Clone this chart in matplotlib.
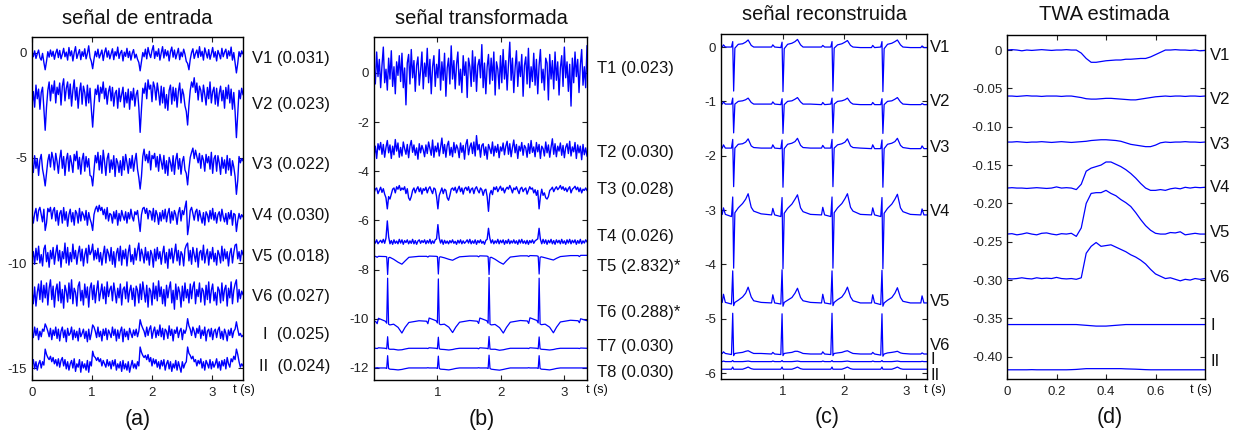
import numpy as np
import matplotlib
matplotlib.use('Agg')
import matplotlib.pyplot as plt

plt.rcParams['font.family'] = ['Liberation Sans', 'DejaVu Sans']
plt.rcParams['axes.unicode_minus'] = False

W, H = 1236, 437
BLUE = '#0000ff'

# ---------------- (a) señal de entrada ----------------
# baseline of each lead, wiggles in hundredths around it
base_a = [-0.10, -2.08, -5.33, -7.80, -9.70, -11.50, -13.35, -14.80]
labels_a = ['V1 (0.031)', 'V2 (0.023)', 'V3 (0.022)', 'V4 (0.030)',
            'V5 (0.018)', 'V6 (0.027)', 'I  (0.025)', 'II  (0.024)']

a_v1 = [12, -8, 20, -16, 6, 24, -12, -24, 8, -35, -70, -30, 16, -10, 24, -6, 18, -20, 10, 28,
        -12, 22, -18, 4, 32, -8, 14, -24, 36, -4, 20, -28, 12, 40, -16, 6, 26, -22, 16, -6,
        30, -18, 8, 44, -12, -30, -65, -20, 18, -8, 28, -14, 4, 24, -26, 12, 34, -10, 20, -18,
        6, 30, -22, 16, -4, 38, -16, 10, 22, -28, 14, -6, 32, -12, 18, -24, 8, 26, -14, 4,
        -20, -35, -75, -30, 12, -8, 28, -18, 36, 6, -12, 22, 45, -16, 18, -6, 30, -24, 10, 40,
        -14, 26, -4, 20, -28, 16, 38, -10, 24, -18, 8, 32, -22, 14, -8, 28, 4, -30, -40, -70,
        -20, 12, 30, -16, 8, 24, -12, 40, -6, 18, -24, 34, 10, -14, 26, -20, 6, 36, -10, 16,
        -28, 22, 4, -18, 32, -8, 14, 28, -16, 20, -4, 38, -24, 12, -36, -85, -40, 16, -8, 20,
        6]
a_v2 = [-40, 24, -50, 55, -10, 36, -60, 20, 45, -60, -160, -50, 30, 70, -20, 55, 16, 75, -30, 45,
        10, 65, -40, 50, 85, -20, 40, 70, -10, 60, -45, 30, 80, -16, 44, -55, 24, 65, -36, 50,
        20, -44, 55, -30, 40, -60, -145, -45, 36, 10, 55, -24, 45, 16, 70, -10, 40, -36, 24, 50,
        -20, 44, -45, 16, 30, -55, 40, -24, 10, 45, -50, 20, -30, 36, -60, 24, -16, 40, -45, 10,
        30, -50, -170, -60, 40, 16, 65, -10, 80, 36, 55, -24, 70, 45, -16, 65, 20, -40, 50, -30,
        44, -55, 10, -65, 30, 55, -36, 45, -20, 40, -50, 24, 65, -30, 36, 10, -44, -70, -135, -40,
        30, 70, 45, 90, 20, 65, -16, 50, 30, -24, 55, 10, -40, 44, -10, 70, -30, 24, 45, -36,
        40, -45, 16, 50, -20, 30, -55, 44, -10, 55, -30, 36, -60, 20, -70, -195, -80, 30, -10, 40,
        10]
a_v3 = [10, -36, 44, -16, 30, -50, 24, 50, -20, -55, -100, -40, 20, 50, -10, 60, 30, -24, 55, 16,
        -40, 30, 70, -16, 40, -50, 24, 55, -30, 44, 10, -36, 50, 20, 65, -20, 36, -44, 24, 55,
        -30, 40, -10, 30, -50, -55, -100, -30, 45, 10, 60, -24, 44, -40, 70, 16, -50, 30, 55, -36,
        24, -20, 44, -55, 30, 10, -36, 20, -50, 40, -24, 50, 10, -40, 30, -16, 45, -30, 20, 55,
        -20, -60, -115, -55, 40, 75, 20, 50, 10, 65, -24, 45, 30, 55, -10, 40, -30, 50, 16, -20,
        45, -40, 20, -50, 36, 10, -30, 44, -45, 24, 55, -20, 30, -44, 16, 40, -24, -40, -95, -20,
        36, 60, 80, 30, 70, 40, 10, 55, -16, 45, 24, -30, 50, 10, 40, -20, 60, -40, 30, 45,
        -30, 44, 10, -45, 36, -16, 24, -40, 45, -24, 30, -50, 20, -10, -55, -140, -75, 40, 10, 30,
        20]
a_v4 = [20, -30, 16, 40, -20, 30, 45, 10, -24, 36, -65, -30, 40, 24, 45, -10, 30, 44, -20, 30,
        -40, 16, 30, -30, 44, -16, 24, -45, 10, 36, -24, 20, -40, 30, 16, -30, 40, -20, 24, 10,
        -16, 30, -40, 20, -10, -30, -65, 10, 36, 50, 24, 55, 30, 45, 10, 36, -10, 44, -20, 16,
        10, -30, 24, -10, 30, -40, 16, -20, 30, 4, -16, 24, -30, 20, -10, 36, 0, -20, 24, 10,
        30, -20, -70, 10, 40, 45, 16, 40, -10, 30, 24, -16, 40, -24, 30, 10, -36, 20, -20, 30,
        -10, 36, -24, 16, 40, -30, 24, -16, 30, 10, -36, 20, 44, -20, 30, 10, 45, 75, -85, -40,
        30, 45, 16, -16, 24, 36, -20, 30, 0, -30, 20, -40, 24, 10, -24, 30, -10, 40, -16, 20,
        -30, 10, 24, -20, 36, 0, -24, 16, -36, 20, -10, 30, -40, 16, 10, -70, -20, 16, -10, 10,
        0]
a_v5 = [-10, 24, -36, 40, -16, 50, -30, 10, -44, 36, 55, -24, 20, -50, 30, -10, 44, -36, 16, 55,
        -20, 30, -50, 24, -10, 65, -30, 44, -40, 20, -24, 60, -10, 30, -36, 16, 50, -20, 36, -44,
        10, 40, -30, 55, 10, 24, 60, -16, 30, -10, 40, -24, 20, -40, 10, 50, -30, 36, 16, -20,
        44, -36, 24, -50, 16, 40, -20, 50, -40, 30, -10, 36, -44, 20, 55, -24, 10, -36, 40, -16,
        30, 65, -20, 36, 10, -30, 44, -16, 24, -40, 30, 10, -50, 36, -20, 44, -10, 24, -36, 16,
        50, -30, 20, -55, 36, -10, 40, -30, 16, 60, -20, 30, -40, 24, 10, -44, 36, 55, 65, -20,
        30, -36, 44, 10, -24, 40, -50, 20, 30, -16, 55, -30, 10, 36, -40, 24, -10, 44, -24, 16,
        -40, 30, 10, -30, 50, -20, 36, -10, 24, -44, 16, 40, -30, 20, 55, 60, -10, 24, -20, 30,
        10]
a_v6 = [20, -44, 36, -55, 10, 50, -24, 65, -36, 44, -16, 55, -50, 30, 70, -24, 40, -60, 20, 50,
        -30, 60, -40, 24, -65, 44, 16, -36, 55, -20, 70, -44, 30, 10, -55, 40, 60, -30, 20, -50,
        50, -16, 36, -60, 30, 55, -24, 44, -40, 20, 65, -30, 10, 50, -20, 36, -44, 60, -10, 24,
        40, -30, 55, 10, -40, 30, -16, 50, -50, 24, 36, -20, 60, -36, 16, 44, -24, 30, -55, 40,
        20, -40, 50, -24, 60, 10, -36, 44, -60, 30, 16, -50, 55, -20, 40, -30, 65, -10, 36, -44,
        24, -55, 44, -16, 30, 60, -40, 20, -70, 50, -24, 36, 10, -60, 40, -30, 55, -16, 24, -40,
        50, -20, 36, 60, -44, 24, -10, 55, -36, 30, 16, -50, 44, -24, 60, -40, 20, 50, -30, 10,
        -50, 36, 20, -40, 55, -30, 24, 44, -55, 30, -16, 60, -44, 20, 50, 70, -36, 24, -20, 16,
        0]
a_i = [0, -20, 30, -10, 24, -30, 10, -16, 20, 10, 45, 30, 10, -16, 24, -30, 16, -10, 30, -24,
       20, -36, 10, 30, -20, 16, -40, 24, -10, 0, 30, -30, 16, -20, 10, -36, 24, -16, 0, 20,
       -24, 10, -40, 20, -30, 0, 40, 30, 10, -20, 30, -16, 10, -36, 20, -10, 24, -30, 16, 0,
       -20, 30, -10, 20, -36, 16, -24, 10, 30, -40, 20, -16, 10, -30, 24, 0, -20, 16, -10, 20,
       -16, 10, 65, 40, 24, 10, -16, 30, -10, 20, 36, -24, 10, 30, -20, 16, -10, 40, -16, 24,
       -30, 20, 10, -24, 36, -10, 20, -36, 16, 0, 30, -20, 10, 24, -30, 16, 0, 20, 70, 36,
       20, -10, 30, 10, -20, 24, 0, 36, -24, 16, -10, 30, -36, 10, 20, -16, 24, -30, 10, 20,
       -20, 16, 30, -24, 10, -30, 20, 0, -36, 16, -10, 24, -20, 10, 20, 55, 20, -10, 0, -16,
       -10]
a_ii = [-10, 20, -24, 10, -30, 0, 16, -20, 10, -6, 70, 45, 30, 20, 36, 10, 30, 0, 20, -10,
        24, -16, 16, 30, -10, 20, -24, 10, -30, 0, 16, -20, 24, -36, 0, -16, 20, -40, 10, -20,
        0, -30, 16, -40, 10, -10, 60, 36, 30, 16, 30, 10, 24, -10, 16, 0, -16, 20, -10, 10,
        -24, 16, -10, 20, -30, 0, -20, 10, -36, 16, -24, 0, -30, 10, -40, -10, 16, -20, 0, -24,
        10, -10, 80, 55, 40, 30, 40, 20, 44, 10, 30, -10, 24, 0, 20, -16, 10, -24, 16, -10,
        20, -30, 0, 16, -24, 10, -36, 0, -20, 16, -30, 10, -16, -40, 10, -20, 0, 10, 80, 50,
        40, 24, 36, 10, 20, -10, 16, 0, 24, -20, 10, -30, 16, 0, -20, 20, -24, 10, -16, 0,
        24, -20, 10, -30, 16, -10, 20, -24, 30, 0, -16, 24, 10, 36, 20, 70, 45, 10, -16, 0,
        -10]

# ---------------- (b) señal transformada ----------------
labels_b = ['T1 (0.023)', 'T2 (0.030)', 'T3 (0.028)', 'T4 (0.026)',
            'T5 (2.832)*', 'T6 (0.288)*', 'T7 (0.030)', 'T8 (0.030)']
base_b = [0.0, -3.13, -4.83, -6.87]

b_t1 = [20, -45, 85, -15, 55, -60, 30, 105, -40, 15, -70, 60, -25, 90, -55, 25, -85, 45, -10, 70,
        -35, 80, -60, 20, -130, 40, 75, -45, 95, -20, 50, -75, 30, 65, -50, 10, 85, -65, 40, -15,
        100, -40, 55, -85, 25, 70, -55, 35, -20, 95, -70, 45, -30, 80, -95, 20, 60, -45, 110, -25,
        50, -65, 35, 85, -50, 15, -80, 70, -10, 45, -100, 60, 25, -55, 90, -35, 65, -75, 30, 55,
        -20, 115, -60, 40, -85, 25, 75, -45, 60, -30, 85, -90, 45, 15, -65, 70, -40, 95, -25, 50,
        -70, 35, 125, -30, 60, -80, 20, 90, -55, 45, -15, 75, -95, 30, 65, -45, 100, -60, 25, -35,
        80, -50, 55, -85, 30, 95, -40, 15, -70, 60, 40, -110, 75, -25, 50, -65, 85, -30, 45, -90,
        20, 70, -55, 105, -20, 45, -75, 35, -135, 60, -40, 85, -15, 55, -80, 30, 95, -50, 25, -60,
        110]
b_t2 = [-25, 15, -35, 25, 0, 30, -18, 22, -30, 10, 38, -12, 20, -35, 15, -20, 42, -5, 28, -30,
        10, -25, 32, 5, -18, 22, -32, 15, 38, -10, 20, -22, 8, -38, 25, -12, 18, 0, -28, 20,
        -15, 32, 5, -22, 40, -30, 15, -8, 28, -25, 10, 48, -15, 22, -30, 18, 35, -22, 10, -28,
        30, -12, 20, 5, -32, 28, -10, 18, -38, 22, 42, -20, 12, 28, -15, 32, -25, 58, 0, 22,
        -30, 18, 25, -22, 12, -38, 22, 5, -15, 32, -25, 15, -10, 22, -32, 12, -5, 28, -20, 15,
        35, -18, 25, -28, 10, 40, -12, 22, -35, 15, -5, 30, -22, 18, 8, -30, 25, -15, 38, -10,
        12, -28, 30, -8, 22, -35, 15, 5, -25, 32, -12, 20, -30, 10, 45, -18, 25, -28, 15, -5,
        28, -22, 18, -32, 10, 25, -15, 35, -25, 12, -8, 30, -35, 20, -12, 15, -40, 22, -20, 8,
        -25]
b_t3 = [-5, 10, 15, -8, 5, 18, -3, 12, -10, -25, -70, -20, -30, -10, 10, 15, -5, 20, 10, 25,
        5, 15, 8, 20, -8, 12, -25, -35, -20, 5, 15, -5, 10, 20, 0, 15, -10, 12, 5, 18,
        -5, 12, 20, 5, -8, 15, 10, -20, -70, -15, 0, 15, -8, 10, 5, -25, -35, -15, 10, 15,
        5, 18, -5, 10, 22, 0, 15, -10, 12, 18, 5, 20, -5, 10, 15, -8, 12, 20, 5, -5,
        15, 8, -15, 5, 10, -20, -80, -10, 5, -12, 18, 8, 20, 0, 12, 22, 5, 15, -5, 10,
        18, 10, 25, 12, -5, 15, 8, 20, 5, -8, 12, 18, 0, 10, 15, -10, 5, 20, 10, 15,
        -5, 8, -15, 5, -70, -20, 10, -15, -5, -25, -30, -20, 5, 10, 18, 0, 12, 20, 8, 15,
        25, 10, 20, 5, 15, 0, 12, 20, -5, 10, 15, 22, 8, 18, 0, 15, -5, 10, 5, 15,
        5]
b_t4 = [5, -5, 8, -8, 0, 6, -4, 10, -6, 15, 85, 20, -8, 5, -10, 8, -6, 3, -8, 10,
        -5, 8, -10, 5, -3, 8, -8, 4, -6, 10, -8, 5, -10, 3, 8, -6, 5, -3, 8, -8,
        5, -5, 10, -8, 4, -6, 8, 12, 70, 15, -5, 8, -10, 6, -6, 3, -8, 5, -4, 8,
        -6, 2, -10, 6, -5, 8, -8, 4, -6, 0, 8, -5, 10, -8, 4, -6, 8, -10, 5, -4,
        8, -6, 2, -10, 6, 10, 55, 15, -5, 8, -8, 4, -5, 10, -8, 6, -4, 8, -10, 5,
        -6, 10, -8, 4, -5, 8, -6, 4, -10, 8, -5, 10, -6, 4, -8, 6, -10, 5, -4, 8,
        -6, 4, 8, 12, 55, 10, -8, 10, -6, 8, -10, 6, -4, 10, -8, 5, -10, 8, -4, 6,
        -8, 10, -6, 4, -10, 8, -5, 10, -8, 6, -4, 8, -10, 5, -6, 10, -8, 4, -5, 8,
        0]

# smooth components T5..T8, sampled at the time points below (s)
t_b = [0.0,
       0.03, 0.05, 0.07, 0.18, 0.20, 0.215, 0.23, 0.25, 0.31, 0.38, 0.44, 0.49, 0.55, 0.71,
       0.83, 0.85, 0.87, 0.98, 1.00, 1.015, 1.03, 1.05, 1.11, 1.18, 1.24, 1.29, 1.35, 1.51,
       1.63, 1.65, 1.67, 1.78, 1.80, 1.815, 1.83, 1.85, 1.91, 1.98, 2.04, 2.09, 2.15, 2.31,
       2.42, 2.44, 2.46, 2.57, 2.59, 2.605, 2.62, 2.64, 2.70, 2.77, 2.83, 2.88, 2.94, 3.10,
       3.22, 3.24, 3.26, 3.36]
b_t5 = [-7.45,
        -7.47, -7.50, -7.46, -7.47, -7.48, -8.20, -7.52, -7.50, -7.58, -7.70, -7.78, -7.65, -7.50, -7.46,
        -7.46, -7.49, -7.45, -7.46, -7.47, -8.18, -7.50, -7.48, -7.52, -7.58, -7.62, -7.55, -7.48, -7.45,
        -7.45, -7.48, -7.44, -7.45, -7.47, -8.20, -7.51, -7.50, -7.58, -7.70, -7.78, -7.64, -7.49, -7.44,
        -7.44, -7.47, -7.43, -7.44, -7.46, -8.18, -7.50, -7.48, -7.52, -7.57, -7.61, -7.54, -7.47, -7.43,
        -7.43, -7.47, -7.42, -7.42]
b_t6 = [-10.10,
        -10.12, -10.20, -9.98, -10.10, -10.18, -8.35, -10.22, -10.25, -10.22, -10.35, -10.58, -10.35, -10.15, -10.08,
        -10.10, -10.20, -9.97, -10.08, -10.17, -8.38, -10.21, -10.24, -10.22, -10.34, -10.56, -10.34, -10.14, -10.07,
        -10.10, -10.19, -9.97, -10.08, -10.18, -8.32, -10.22, -10.25, -10.23, -10.36, -10.58, -10.35, -10.14, -10.07,
        -10.09, -10.19, -9.96, -10.07, -10.17, -8.35, -10.21, -10.24, -10.22, -10.34, -10.57, -10.34, -10.13, -10.06,
        -10.08, -10.16, -10.00, -10.08]
b_t7 = [-11.20,
        -11.20, -11.21, -11.18, -11.20, -11.22, -10.73, -11.22, -11.24, -11.24, -11.27, -11.26, -11.23, -11.20, -11.20,
        -11.20, -11.21, -11.18, -11.20, -11.22, -10.75, -11.22, -11.24, -11.25, -11.27, -11.25, -11.22, -11.20, -11.20,
        -11.20, -11.22, -11.18, -11.20, -11.22, -10.72, -11.23, -11.24, -11.24, -11.28, -11.26, -11.23, -11.20, -11.20,
        -11.20, -11.21, -11.18, -11.20, -11.22, -10.74, -11.22, -11.24, -11.25, -11.27, -11.25, -11.22, -11.20, -11.20,
        -11.20, -11.21, -11.19, -11.20]
b_t8 = [-12.00,
        -12.00, -11.99, -12.00, -12.00, -12.02, -11.50, -12.02, -12.05, -12.06, -12.08, -12.06, -12.03, -12.00, -12.00,
        -12.00, -11.99, -12.00, -12.00, -12.02, -11.52, -12.02, -12.05, -12.06, -12.08, -12.05, -12.02, -12.00, -12.00,
        -12.00, -11.99, -12.00, -12.00, -12.02, -11.48, -12.02, -12.05, -12.07, -12.09, -12.06, -12.03, -12.00, -12.00,
        -12.00, -11.99, -12.00, -12.00, -12.02, -11.50, -12.02, -12.05, -12.06, -12.08, -12.05, -12.02, -12.00, -12.00,
        -12.00, -12.00, -12.00, -12.00]

# ---------------- (c) señal reconstruida ----------------
labels_c = ['V1', 'V2', 'V3', 'V4', 'V5', 'V6', 'I', 'II']
t_c = [0.0,
       0.02, 0.04, 0.07, 0.17, 0.19, 0.205, 0.225, 0.28, 0.35, 0.40, 0.44, 0.49, 0.53, 0.65,
       0.82, 0.84, 0.87, 0.97, 0.99, 1.005, 1.025, 1.08, 1.15, 1.20, 1.24, 1.29, 1.33, 1.45,
       1.63, 1.65, 1.68, 1.78, 1.80, 1.815, 1.835, 1.89, 1.96, 2.01, 2.05, 2.10, 2.14, 2.26,
       2.44, 2.46, 2.49, 2.59, 2.61, 2.625, 2.645, 2.70, 2.77, 2.82, 2.86, 2.91, 2.95, 3.07,
       3.24, 3.26, 3.29, 3.34]
c_v1 = [0.0,
        0.0, 0.04, 0.0, 0.0, 0.10, -0.81, -0.02, 0.05, 0.06, 0.09, 0.13, 0.03, 0.0, 0.0,
        0.0, 0.04, 0.0, -0.01, 0.09, -0.82, -0.03, 0.05, 0.07, 0.10, 0.14, 0.04, 0.0, 0.0,
        0.0, 0.03, 0.0, 0.0, 0.10, -0.81, -0.02, 0.04, 0.06, 0.09, 0.12, 0.03, 0.0, -0.01,
        -0.01, 0.03, -0.01, 0.0, 0.10, -0.82, -0.03, 0.05, 0.07, 0.10, 0.13, 0.04, 0.0, -0.01,
        -0.01, 0.02, -0.01, -0.01]
c_v2 = [-1.05,
        -1.05, -1.01, -1.05, -1.05, -0.94, -1.58, -1.05, -1.00, -0.99, -0.97, -0.94, -1.02, -1.05, -1.05,
        -1.05, -1.01, -1.05, -1.06, -0.95, -1.59, -1.06, -1.00, -0.99, -0.96, -0.93, -1.01, -1.05, -1.05,
        -1.06, -1.02, -1.06, -1.05, -0.94, -1.58, -1.05, -1.00, -0.99, -0.97, -0.94, -1.02, -1.05, -1.06,
        -1.06, -1.02, -1.06, -1.06, -0.95, -1.59, -1.06, -1.00, -0.99, -0.96, -0.93, -1.01, -1.05, -1.06,
        -1.06, -1.04, -1.06, -1.06]
c_v3 = [-1.86,
        -1.86, -1.80, -1.86, -1.86, -1.70, -2.57, -1.86, -1.79, -1.78, -1.75, -1.69, -1.82, -1.85, -1.86,
        -1.86, -1.80, -1.86, -1.87, -1.71, -2.58, -1.87, -1.79, -1.77, -1.74, -1.68, -1.81, -1.85, -1.86,
        -1.86, -1.81, -1.86, -1.86, -1.70, -2.57, -1.86, -1.80, -1.78, -1.75, -1.69, -1.82, -1.85, -1.86,
        -1.87, -1.80, -1.87, -1.87, -1.71, -2.58, -1.87, -1.79, -1.77, -1.74, -1.68, -1.81, -1.85, -1.87,
        -1.87, -1.82, -1.87, -1.87]
c_v4 = [-3.08,
        -3.08, -2.96, -3.08, -3.12, -2.76, -4.07, -3.05, -2.96, -2.88, -2.80, -2.70, -2.95, -3.02, -3.07,
        -3.09, -2.97, -3.09, -3.12, -2.77, -4.08, -3.06, -2.97, -2.89, -2.80, -2.72, -2.96, -3.03, -3.08,
        -3.09, -2.95, -3.09, -3.12, -2.76, -4.07, -3.05, -2.96, -2.88, -2.79, -2.70, -2.95, -3.02, -3.08,
        -3.09, -2.96, -3.09, -3.12, -2.77, -4.08, -3.06, -2.97, -2.89, -2.80, -2.71, -2.96, -3.03, -3.08,
        -3.09, -2.98, -3.09, -3.09]
c_v5 = [-4.70,
        -4.70, -4.55, -4.70, -4.73, -4.12, -4.76, -4.70, -4.66, -4.60, -4.53, -4.42, -4.60, -4.67, -4.70,
        -4.71, -4.56, -4.71, -4.73, -4.10, -4.77, -4.70, -4.66, -4.61, -4.53, -4.44, -4.61, -4.67, -4.70,
        -4.71, -4.55, -4.71, -4.73, -4.12, -4.76, -4.70, -4.65, -4.60, -4.52, -4.42, -4.60, -4.67, -4.71,
        -4.71, -4.56, -4.71, -4.74, -4.11, -4.77, -4.71, -4.66, -4.61, -4.53, -4.43, -4.61, -4.68, -4.71,
        -4.71, -4.58, -4.71, -4.71]
c_v6 = [-5.64,
        -5.64, -5.61, -5.64, -5.66, -4.90, -5.68, -5.64, -5.63, -5.62, -5.60, -5.59, -5.62, -5.64, -5.64,
        -5.65, -5.62, -5.65, -5.66, -4.91, -5.68, -5.64, -5.63, -5.62, -5.60, -5.60, -5.62, -5.64, -5.65,
        -5.65, -5.61, -5.65, -5.66, -4.90, -5.68, -5.64, -5.63, -5.62, -5.60, -5.59, -5.62, -5.64, -5.65,
        -5.65, -5.62, -5.65, -5.67, -4.91, -5.69, -5.65, -5.63, -5.62, -5.61, -5.60, -5.63, -5.64, -5.65,
        -5.65, -5.63, -5.65, -5.65]
c_i = [-5.79,
       -5.79, -5.78, -5.79, -5.79, -5.77, -5.79, -5.79, -5.79, -5.79, -5.785, -5.78, -5.79, -5.79, -5.79,
       -5.79, -5.78, -5.79, -5.79, -5.77, -5.79, -5.79, -5.79, -5.79, -5.785, -5.78, -5.79, -5.79, -5.79,
       -5.79, -5.78, -5.79, -5.79, -5.77, -5.79, -5.79, -5.79, -5.79, -5.785, -5.78, -5.79, -5.79, -5.79,
       -5.79, -5.78, -5.79, -5.79, -5.77, -5.79, -5.79, -5.79, -5.79, -5.785, -5.78, -5.79, -5.79, -5.79,
       -5.79, -5.785, -5.79, -5.79]
c_ii = [-5.93,
        -5.93, -5.93, -5.93, -5.93, -5.89, -5.93, -5.93, -5.93, -5.93, -5.91, -5.89, -5.92, -5.93, -5.93,
        -5.93, -5.93, -5.93, -5.93, -5.89, -5.93, -5.93, -5.93, -5.93, -5.91, -5.89, -5.92, -5.93, -5.93,
        -5.93, -5.93, -5.93, -5.93, -5.89, -5.93, -5.93, -5.93, -5.93, -5.91, -5.89, -5.92, -5.93, -5.93,
        -5.93, -5.93, -5.93, -5.93, -5.89, -5.93, -5.93, -5.93, -5.93, -5.91, -5.89, -5.92, -5.93, -5.93,
        -5.93, -5.93, -5.93, -5.93]

# ---------------- (d) TWA estimada ----------------
labels_d = ['V1', 'V2', 'V3', 'V4', 'V5', 'V6', 'I', 'II']
d_v1 = [0.000, 0.0005, 0.000, -0.001, 0.000, -0.0005, 0.000, 0.0005, 0.000, -0.0005,
        0.000, 0.000, 0.0005, 0.000, 0.000, -0.004, -0.011, -0.016, -0.016, -0.015,
        -0.014, -0.0135, -0.013, -0.013, -0.012, -0.012, -0.0115, -0.011, -0.011, -0.009,
        -0.006, -0.003, 0.000, 0.000, 0.0005, 0.000, 0.000, -0.0005, 0.000, -0.001,
        -0.0005]
d_v2 = [-0.060, -0.060, -0.0605, -0.060, -0.0595, -0.060, -0.060, -0.0605, -0.060, -0.060,
        -0.060, -0.0605, -0.060, -0.060, -0.061, -0.062, -0.0635, -0.064, -0.064, -0.0635,
        -0.063, -0.063, -0.0635, -0.064, -0.0645, -0.065, -0.065, -0.064, -0.063, -0.062,
        -0.061, -0.0605, -0.060, -0.0605, -0.060, -0.060, -0.0605, -0.060, -0.060, -0.0605,
        -0.060]
d_v3 = [-0.120, -0.120, -0.1195, -0.120, -0.1205, -0.120, -0.120, -0.1195, -0.120, -0.1205,
        -0.120, -0.1195, -0.120, -0.1205, -0.120, -0.1195, -0.119, -0.118, -0.1175, -0.117,
        -0.117, -0.1175, -0.118, -0.119, -0.121, -0.123, -0.124, -0.125, -0.126, -0.126,
        -0.124, -0.121, -0.120, -0.1205, -0.120, -0.120, -0.1195, -0.120, -0.120, -0.1205,
        -0.120]
d_v4 = [-0.180, -0.1795, -0.180, -0.180, -0.1805, -0.180, -0.1795, -0.180, -0.1805, -0.180,
        -0.1785, -0.180, -0.1795, -0.180, -0.182, -0.175, -0.158, -0.154, -0.152, -0.150,
        -0.146, -0.146, -0.149, -0.152, -0.156, -0.161, -0.167, -0.174, -0.180, -0.183,
        -0.183, -0.182, -0.183, -0.181, -0.180, -0.181, -0.179, -0.180, -0.179, -0.1795,
        -0.179]
d_v5 = [-0.240, -0.2395, -0.241, -0.240, -0.2385, -0.240, -0.241, -0.239, -0.2385, -0.240,
        -0.241, -0.2395, -0.240, -0.239, -0.243, -0.232, -0.200, -0.187, -0.186, -0.186,
        -0.183, -0.187, -0.190, -0.195, -0.199, -0.204, -0.212, -0.221, -0.229, -0.235,
        -0.239, -0.240, -0.240, -0.238, -0.2385, -0.237, -0.241, -0.240, -0.239, -0.240,
        -0.240]
d_v6 = [-0.298, -0.2985, -0.298, -0.297, -0.298, -0.2985, -0.297, -0.298, -0.2975, -0.298,
        -0.2965, -0.298, -0.2985, -0.298, -0.299, -0.297, -0.265, -0.256, -0.251, -0.256,
        -0.255, -0.254, -0.257, -0.260, -0.263, -0.267, -0.270, -0.274, -0.279, -0.286,
        -0.292, -0.295, -0.298, -0.297, -0.299, -0.301, -0.299, -0.300, -0.298, -0.299,
        -0.298]
d_i = [-0.358, -0.358, -0.358, -0.358, -0.358, -0.358, -0.358, -0.358, -0.358, -0.358,
       -0.358, -0.358, -0.358, -0.358, -0.358, -0.3585, -0.359, -0.3595, -0.360, -0.360,
       -0.360, -0.3595, -0.359, -0.3585, -0.358, -0.358, -0.358, -0.358, -0.358, -0.358,
       -0.358, -0.358, -0.358, -0.358, -0.358, -0.358, -0.358, -0.358, -0.358, -0.358,
       -0.358]
d_ii = [-0.417, -0.417, -0.417, -0.417, -0.417, -0.4168, -0.417, -0.417, -0.417, -0.417,
        -0.417, -0.417, -0.417, -0.4168, -0.4165, -0.416, -0.4155, -0.4155, -0.4155, -0.4155,
        -0.4155, -0.4155, -0.4155, -0.4155, -0.4158, -0.416, -0.4162, -0.4165, -0.4168, -0.417,
        -0.417, -0.417, -0.417, -0.417, -0.417, -0.417, -0.417, -0.417, -0.417, -0.417,
        -0.417]
yticks_d = [0, -0.05, -0.10, -0.15, -0.20, -0.25, -0.30, -0.35, -0.40]
yticklabels_d = ['0', '-0.05', '-0.10', '-0.15', '-0.20', '-0.25', '-0.30', '-0.35', '-0.40']


fig = plt.figure(figsize=(W / 100, H / 100), dpi=100)


def panel(left, top, right, bottom):
    # axes placed by its pixel box in the reference
    ax = fig.add_axes([left / W, 1 - bottom / H, (right - left) / W, (bottom - top) / H])
    ax.tick_params(direction='in', top=True, right=True, length=3.5, width=0.8,
                   labelsize=9.5, colors='#222222')
    ax.tick_params(axis='x', pad=5)
    ax.tick_params(axis='y', pad=3.5)
    for s in ax.spines.values():
        s.set_linewidth(1.0)
    return ax


def text(x, y, s, size=12, ha='left'):
    fig.text(x / W, 1 - y / H, s, fontsize=size, ha=ha, va='center', color='#111111')


# (a)
ax = panel(32, 37, 243, 380)
for base, vals in zip(base_a, [a_v1, a_v2, a_v3, a_v4, a_v5, a_v6, a_i, a_ii]):
    t = np.linspace(0, 3.52, len(vals))
    ax.plot(t, base + np.array(vals) / 100, color=BLUE, lw=1.0)
ax.set_xlim(0, 3.52)
ax.set_ylim(-15.57, 0.76)
ax.set_xticks([0, 1, 2, 3])
ax.set_yticks([0, -5, -10, -15])
for lab, y in zip(labels_a, [58, 104, 164, 215, 256, 296, 335, 367]):
    text(330, y, lab, ha='right')
text(137, 18, 'señal de entrada', size=14.5, ha='center')
text(244, 390, 't (s)', size=9, ha='center')
text(138, 420, '(a)', size=15.5, ha='center')

# (b)
ax = panel(374, 37, 587, 380)
for base, vals in zip(base_b, [b_t1, b_t2, b_t3, b_t4]):
    t = np.linspace(0, 3.36, len(vals))
    ax.plot(t, base + np.array(vals) / 100, color=BLUE, lw=1.0)
for vals in [b_t5, b_t6, b_t7, b_t8]:
    ax.plot(t_b, vals, color=BLUE, lw=0.9)
ax.set_xlim(0, 3.36)
ax.set_ylim(-12.49, 1.46)
ax.set_xticks([1, 2, 3])
ax.set_yticks([0, -2, -4, -6, -8, -10, -12])
for lab, y in zip(labels_b, [68, 152, 190, 237, 267, 313, 347, 373]):
    text(597, y, lab)
text(481, 18, 'señal transformada', size=14.5, ha='center')
text(597, 390, 't (s)', size=9, ha='center')
text(482, 420, '(b)', size=15.5, ha='center')

# (c)
ax = panel(721, 34, 927, 379)
for vals in [c_v1, c_v2, c_v3, c_v4, c_v5, c_v6, c_i, c_ii]:
    ax.plot(t_c, vals, color=BLUE, lw=0.9)
ax.set_xlim(0, 3.34)
ax.set_ylim(-6.11, 0.24)
ax.set_xticks([1, 2, 3])
ax.set_yticks([0, -1, -2, -3, -4, -5, -6])
for lab, y in zip(labels_c, [48, 102, 148, 212, 302, 346, 360, 375]):
    text(930, y, lab)
text(824, 15, 'señal reconstruida', size=14.5, ha='center')
text(935, 390, 't (s)', size=9, ha='center')
text(827, 418, '(c)', size=15.5, ha='center')

# (d)
ax = panel(1007, 35, 1205, 379)
for vals in [d_v1, d_v2, d_v3, d_v4, d_v5, d_v6, d_i, d_ii]:
    t = np.linspace(0, 0.8, len(vals))
    ax.plot(t, vals, color=BLUE, lw=0.9)
ax.set_xlim(0, 0.8)
ax.set_ylim(-0.429, 0.0196)
ax.set_xticks([0, 0.2, 0.4, 0.6])
ax.set_xticklabels(['0', '0.2', '0.4', '0.6'])
ax.set_yticks(yticks_d)
ax.set_yticklabels(yticklabels_d)
for lab, y in zip(labels_d, [55, 100, 145, 188, 233, 278, 325, 362]):
    text(1210, y, lab)
text(1104, 15, 'TWA estimada', size=14.5, ha='center')
text(1201, 390, 't (s)', size=9, ha='center')
text(1110, 418, '(d)', size=15.5, ha='center')

fig.savefig('out.png', dpi=100)
